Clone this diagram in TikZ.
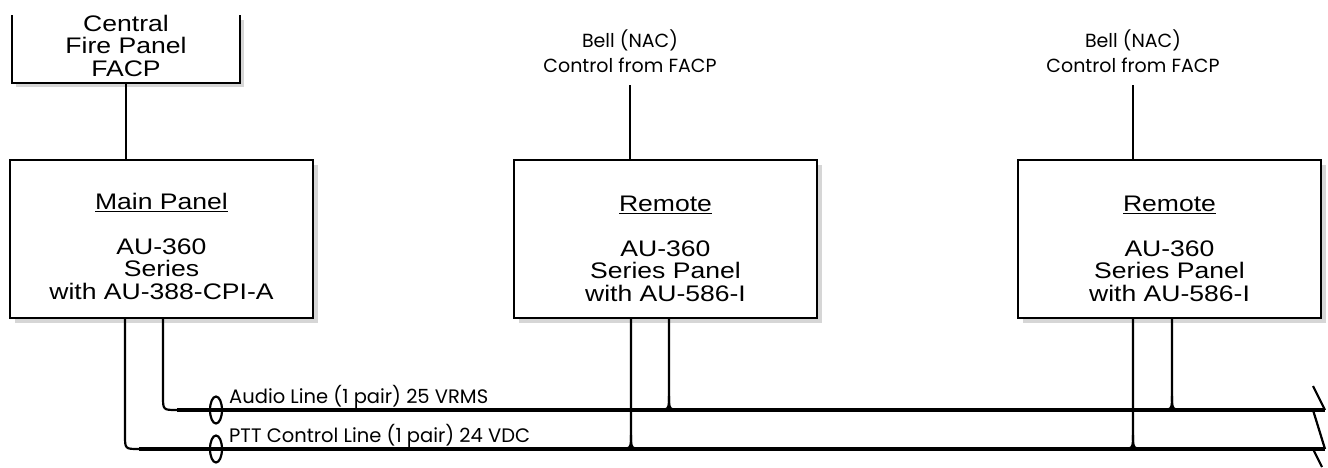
\documentclass[tikz,border=0pt]{standalone}
\usepackage{fontspec}
\newfontfamily\panelfont[FakeStretch=1.18]{Liberation Sans}
\newfontfamily\labelfont{Poppins}
\tikzset{
  panel/.style={draw, line width=2.4pt, fill=white, minimum width=303pt, minimum height=158pt, inner sep=0pt},
  shade/.style={fill=black!16, draw=none},
  ptxt/.style={font=\panelfont\fontsize{22.5}{22.5}\selectfont, align=center, inner sep=0pt},
  ltxt/.style={font=\labelfont\fontsize{19}{25}\selectfont, align=center, inner sep=0pt},
  btxt/.style={font=\labelfont\fontsize{19.5}{25}\selectfont, inner sep=0pt, anchor=base west},
  wire/.style={line width=2.2pt},
  bus/.style={line width=3.2pt},
  cablemark/.style={line width=2.2pt},
}
\begin{document}
\begin{tikzpicture}[x=1pt,y=-1pt]
\useasboundingbox (0,0) rectangle (1328,467);
% FACP open box
\fill[black!16] (16,20) rectangle (244,87);
\fill[white] (12,15) rectangle (240,83);
\draw[line width=2.4pt] (12,15) -- (12,83) -- (240,83) -- (240,15);
\coordinate (facp) at (126,83);
\node[ptxt, anchor=base] (facptxt) at (126,76) {Central\\Fire Panel\\FACP};
% shadows
\fill[shade] (15,165) rectangle (318,323);
\fill[shade] (519,165) rectangle (822,323);
\fill[shade] (1023,165) rectangle (1326,323);
% panels
\node[panel] (main) at (161.5,239) {};
\node[panel] (rem1) at (665.5,239) {};
\node[panel] (rem2) at (1169.5,239) {};
\node[ptxt, anchor=base] (maintxt) at (161.5,299) {\underline{Main Panel}\\[22pt]AU-360\\Series\\with AU-388-CPI-A};
\node[ptxt, anchor=base] (rem1txt) at (665.5,301) {\underline{Remote}\\[22pt]AU-360\\Series Panel\\with AU-586-I};
\node[ptxt, anchor=base] (rem2txt) at (1169.5,301) {\underline{Remote}\\[22pt]AU-360\\Series Panel\\with AU-586-I};
% bell labels
\node[ltxt, anchor=base] (bell1) at (630,72) {Bell (NAC)\\Control from FACP};
\node[ltxt, anchor=base] (bell2) at (1133,72) {Bell (NAC)\\Control from FACP};
\coordinate (bell1end) at (630,85);
\coordinate (bell2end) at (1133,85);
\draw[wire] (facp) -- (facp |- main.north);
\draw[wire] (bell1end) -- (bell1end |- rem1.north);
\draw[wire] (bell2end) -- (bell2end |- rem2.north);
% bus ends
\coordinate (audioend) at (1325,410);
\coordinate (pttend) at (1325,449);
% main panel wires
\coordinate (ma) at (163,318);
\coordinate (mp) at (125,318);
\draw[wire] (ma) -- (163,396) .. controls (163,410) .. (177,410);
\draw[wire] (mp) -- (125,435) .. controls (125,449) .. (139,449);
\draw[bus] (177,410) -- (audioend);
\draw[bus] (139,449) -- (pttend);
% remote 1
\coordinate (r1a) at (669,318);
\coordinate (r1p) at (631,318);
\draw[wire] (r1a) -- (669,396) .. controls (669,410) .. (655,410);
\draw[wire] (669,396) .. controls (669,410) .. (683,410);
\draw[wire] (r1p) -- (631,435) .. controls (631,449) .. (617,449);
\draw[wire] (631,435) .. controls (631,449) .. (645,449);
% remote 2
\coordinate (r2a) at (1172,318);
\coordinate (r2p) at (1133,318);
\draw[wire] (r2a) -- (1172,396) .. controls (1172,410) .. (1158,410);
\draw[wire] (1172,396) .. controls (1172,410) .. (1186,410);
\draw[wire] (r2p) -- (1133,435) .. controls (1133,449) .. (1119,449);
\draw[wire] (1133,435) .. controls (1133,449) .. (1147,449);
% break marks
\draw[wire] (1313,386) -- (audioend);
\draw[wire] (1313,410) -- (pttend);
\draw[wire] (1313,449) -- (1322,467);
% cable markers
\draw[cablemark] (216,410) ellipse [x radius=6, y radius=13.5];
\draw[cablemark] (216,449) ellipse [x radius=6, y radius=13.5];
\node[btxt] (audiotxt) at (229,403) {Audio Line (1 pair) 25 VRMS};
\node[btxt] (ptttxt) at (229,442) {PTT Control Line (1 pair) 24 VDC};
\end{tikzpicture}
\end{document}
